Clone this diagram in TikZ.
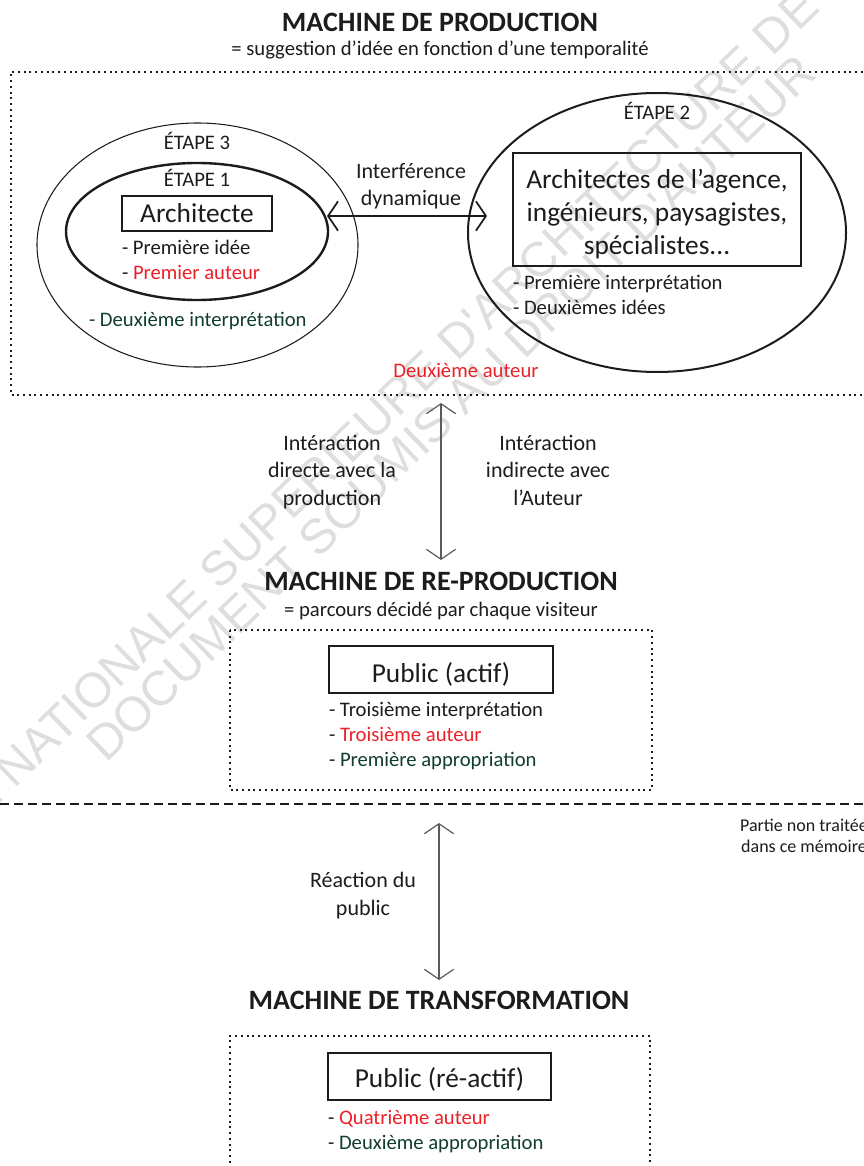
\documentclass[tikz,border=0pt]{standalone}
\usepackage{fontspec}
\setmainfont{Carlito}
\newfontfamily\wmfont{Liberation Sans}
\usetikzlibrary{arrows.meta,shapes.geometric}
\definecolor{ink}{HTML}{1C1C1C}
\definecolor{autred}{HTML}{EC2027}
\definecolor{appgreen}{HTML}{103C32}
\definecolor{arrgray}{HTML}{5A5A5A}
\definecolor{wmgray}{HTML}{DEDEDE}
\begin{document}
\begin{tikzpicture}[x=0.75pt,y=-0.75pt,
  txt/.style={inner sep=0pt,outer sep=0pt,text=ink},
  body/.style={txt,font=\fontsize{15.5}{18.75}\selectfont},
  lbl/.style={txt,font=\fontsize{16.5}{20.6}\selectfont,align=center},
  ttl/.style={txt,font=\fontsize{21}{25}\selectfont\bfseries},
  big/.style={txt,font=\fontsize{20.5}{24.5}\selectfont},
  small/.style={txt,font=\fontsize{13.5}{15.75}\selectfont,align=center},
  wm/.style={inner sep=0pt,text=wmgray,font=\wmfont\fontsize{36.5}{40}\selectfont},
  frame/.style={draw=ink,line width=1.5pt,inner sep=0pt,outer sep=0pt},
  dotbox/.style={draw=ink,line width=1.5pt,dash pattern=on 1.5pt off 2.8pt},
  dashline/.style={draw=ink,line width=1.5pt,dash pattern=on 6.75pt off 3.75pt},
  oval/.style={ellipse,inner sep=0pt,outer sep=0pt,draw=ink},
  barb/.style={{Straight Barb[length=7.5pt,width=22pt]}-{Straight Barb[length=7.5pt,width=22pt]}},
]
\useasboundingbox (0,0) rectangle (863,1166);
\begin{scope}
\clip (0,0) rectangle (863,1166);
\node[wm,anchor=base west,rotate=44] (wm1) at (14,790) {\llap{ÉCOLE }NATIONALE SUPERIEURE D'ARCHITECTURE DE};
\node[wm,anchor=base west,rotate=44] (wm2) at (106,764) {DOCUMENT SOUMIS AU DROIT D'AUTEUR};
\end{scope}

% ---- production
\node[ttl,anchor=base] (t1) at (440,32) {MACHINE DE PRODUCTION};
\node[body,anchor=base] (s1) at (440,56) {= suggestion d’idée en fonction d’une temporalité};
\draw[dotbox] (880,72) -- (11,72) -- (11,395) -- (880,395);

\node[oval,line width=0.8pt,minimum width=240.75pt,minimum height=183pt] (e3) at (197.5,245) {};
\node[oval,line width=1.8pt,minimum width=196.5pt,minimum height=102.75pt] (e1) at (197,231.5) {};
\node[oval,line width=1.5pt,minimum width=283.5pt,minimum height=209.25pt] (e2) at (657,232.5) {};

\node[body,anchor=base] (l3) at (197,150) {ÉTAPE 3};
\node[body,anchor=base] (l1) at (197,187) {ÉTAPE 1};
\node[frame,big,minimum width=112.5pt,text height=20.25pt,text depth=6pt] (arch) at (197,213.5) {Architecte};
\node[body,anchor=base west,align=left] (li1) at (122,279) {- Première idée\\- {\color{autred}Premier auteur}};
\node[body,anchor=base west,text=appgreen] (li3) at (89,326) {- Deuxième interprétation};

\coordinate (ia) at (327,216);
\coordinate (ib) at (487,216);
\draw[barb,draw=ink,line width=1.3pt] (ia) -- (ib);
\node[lbl,anchor=base,font=\fontsize{16.5}{20.25}\selectfont] (inter) at (411,206) {Interférence\\dynamique};

\node[body,anchor=base] (l2) at (657,120) {ÉTAPE 2};
\node[frame,minimum width=216pt,minimum height=84.75pt] (team) at (657,209.5) {};
\node[big,anchor=base,align=center] (teamtxt) at (657,254) {Architectes de l’agence,\\ingénieurs, paysagistes,\\spécialistes...};
\node[body,anchor=base west,align=left] (li2) at (513,314) {- Première interprétation\\- Deuxièmes idées};
\node[body,anchor=base,text=autred] (a2) at (466,377) {Deuxième auteur};

% ---- re-production
\coordinate (v1a) at (441,403);
\coordinate (v1b) at (441,560);
\draw[barb,draw=arrgray,line width=0.9pt] (v1a) -- (v1b);
\node[lbl,anchor=base] (dir) at (332,505) {Intéraction\\directe avec la\\production};
\node[lbl,anchor=base] (ind) at (548,505) {Intéraction\\indirecte avec\\l’Auteur};

\node[ttl,anchor=base] (t2) at (441,590) {MACHINE DE RE-PRODUCTION};
\node[body,anchor=base] (s2) at (441,616) {= parcours décidé par chaque visiteur};
\draw[dotbox] (230,630) rectangle (652,790);
\node[frame,big,minimum width=168pt,text height=27pt,text depth=8.25pt] (pub1) at (441,669.5) {Public (actif)};
\node[body,anchor=base west,align=left,font=\fontsize{15.5}{18.4}\selectfont] (li4) at (329,766) {- Troisième interprétation\\- {\color{autred}Troisième auteur}\\- {\color{appgreen}Première appropriation}};

\draw[dashline] (0,804) -- (863,804);
\node[small,anchor=base] (np) at (804,852) {Partie non traitée\\dans ce mémoire};

% ---- transformation
\coordinate (v2a) at (439,823);
\coordinate (v2b) at (439,980);
\draw[barb,draw=arrgray,line width=0.9pt] (v2a) -- (v2b);
\node[lbl,anchor=base] (rea) at (363,915) {Réaction du\\public};

\node[ttl,anchor=base] (t3) at (439,1009) {MACHINE DE TRANSFORMATION};
\draw[dotbox] (230,1180) -- (230,1036) -- (650,1036) -- (650,1180);
\node[frame,big,minimum width=167.25pt,text height=25.5pt,text depth=9.75pt] (pub2) at (439.5,1076.5) {Public (ré-actif)};
\node[body,anchor=base west,align=left] (li5) at (328,1149) {- {\color{autred}Quatrième auteur}\\- {\color{appgreen}Deuxième appropriation}};
\end{tikzpicture}
\end{document}
